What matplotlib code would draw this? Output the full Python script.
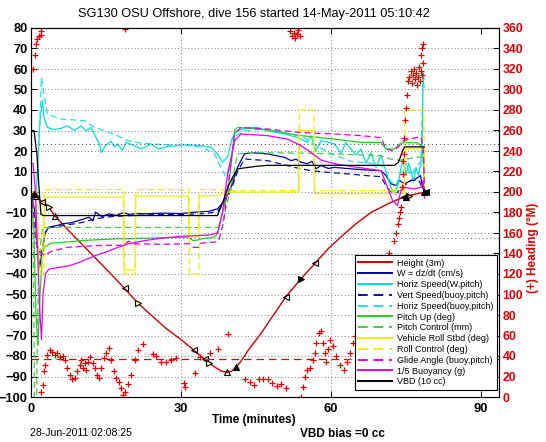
import numpy as np
import matplotlib
matplotlib.use("Agg")
import matplotlib.pyplot as plt

plt.rcParams['font.family'] = ['Liberation Sans', 'DejaVu Sans']

# ---- data (time in minutes) ----
height_t = [0, 1, 2, 3.4, 4.9, 7, 10, 13, 16, 18.7, 21.3, 24, 27, 30, 32.5, 34.7, 36.5, 38,
            39.2, 40.2, 41, 42, 43.5, 46, 48.5, 51, 53.9, 56.8, 59.5, 62.4, 65, 68, 71.6,
            74, 76, 77.5, 79]
height_v = [0, -2, -4.5, -7, -12, -17.5, -25, -32.5, -40, -47, -54, -60, -66.5, -72, -77,
            -81.5, -85, -87.3, -88, -87.3, -85.5, -82.5, -77, -69, -60, -51, -42.6, -34.8,
            -27.5, -21, -15.5, -10, -5.5, -3, -1.5, -0.7, 0]
# motor-move markers on the height trace
mark_t = [0.6, 0.9, 2.2, 3.5, 4.8, 18.7, 21.3, 32.5, 34.7, 35.6, 39.2, 41.0, 51.0, 53.9,
          56.8, 74.5, 75.0, 75.6, 78.6, 78.9, 79.0]
mark_sym = ['^', '^', '<', '>', '^', '<', '>', '<', '<', '>', '^', '^', '<', '>', '<',
            '<', '^', '>', '^', '<', '>']
mark_fill = ['k', 'none', '#ffcc66', '#ffff99', 'none', 'none', '#ffff99', 'none', 'none',
             '#ffff99', 'none', 'k', 'none', 'k', 'none', 'k', 'k', 'none', 'k', 'k', 'none']

vbd_t = [0, 0.6, 1.2, 1.6, 2.0, 2.5, 37.3, 38.5, 39.5, 40.5, 41.3, 45, 47.3, 72.7, 73.5,
         74.3, 74.7, 78.7]
vbd_v = [30, 30, 18, 2, -11, -11.5, -11.5, -4, 3, 8, 11.3, 12.5, 13, 13, 14.5, 20, 22, 22]

w_t = [0, 0.8, 1.3, 1.7, 2.2, 2.8, 3.6, 5, 6.3, 8, 9.6, 11.6, 12.4, 12.9, 13.3, 14.2, 15.6,
       17, 18.5, 19.6, 21, 23, 26.3, 30, 33, 35.6, 37.3, 38.7, 40, 41.3, 42.7, 44, 47.3,
       50.7, 52, 53, 54, 55.3, 56.2, 57, 58, 59.5, 60.7, 64, 67.3, 70, 71, 72, 73, 73.7,
       74.7, 76, 77, 77.9, 78.3, 78.7]
w_v = [0, -10, -28, -37, -30, -20, -17, -16.5, -15.5, -15, -13.9, -12.3, -14, -9.8, -10.5,
       -12, -10.7, -11.5, -10, -11, -10.5, -10.6, -10.3, -10.5, -9.8, -9.4, -8.2, -4.2, 2.3,
       12, 18.6, 19.2, 18.6, 16.9, 15.3, 16, 14.5, 13.8, 15, 11.3, 12.9, 11.5, 12, 11.3,
       10.7, 10.4, 8, 4, 3.2, 5.6, 4, 5.6, 6.5, 8, 2.3, 0.3]

hspd_t = [0, 1.0, 1.3, 1.8, 2.3, 2.6, 3.3, 4.5, 6, 7.3, 8.7, 10, 11, 12, 13, 13.7, 14, 15,
          16, 16.7, 17.3, 18.3, 19, 20.7, 22, 24, 25.5, 27.3, 31.3, 34, 36, 37.3, 38.3,
          39.3, 40.3, 41.3, 44, 45.3, 47.3, 50.7, 53.3, 55.3, 56, 57, 58, 60.7, 62, 63, 64,
          65, 66, 67, 68, 69, 70, 71, 71.5, 72, 72.5, 73, 73.5, 74, 74.5, 75, 75.5, 76,
          76.5, 77, 77.5, 78, 78.3, 78.4, 78.6]
hspd_v = [0, 0, 10, 35, 44.5, 36.4, 31.5, 30.5, 31, 32.3, 30, 32.3, 29.7, 31.5, 26.6, 23.4,
          19.3, 22.9, 24.8, 22, 23.4, 20.4, 24.2, 22.6, 21, 23.4, 21, 22.2, 23, 22.6, 21.8,
          18.6, 14.5, 17, 26.6, 29.9, 31.5, 31.5, 29.9, 28.3, 26.6, 24.2, 27.5, 20, 25,
          23.5, 19, 24, 21, 18, 21, 14, 19, 12, 18, 10, 6, 2, 0, 1, 4, 12, 16, 8, 14, 10,
          5, 12, 8, 14, 30, 58, 55]

vspd_b_t = [0, 0.8, 1.3, 1.7, 2.2, 2.8, 3.6, 6, 10, 13, 16, 20, 25, 30, 35, 37.3, 38.7, 40,
            41.3, 42.7, 47.3, 52.7, 56, 59.3, 64, 68, 70, 71, 72, 73, 74, 76, 77.5, 78.3,
            78.7]
vspd_b_v = [0, -12, -30, -35, -28, -20, -17.5, -16.5, -15, -13, -12, -11.5, -11, -11, -10.5,
            -9.5, -5, 1, 10, 16.1, 15.3, 12, 10.4, 9.6, 8.7, 7.8, 7.5, 3, 0, -1, 2, 5.6, 6,
            2, 0]

hspd_b_t = [0, 1.0, 1.5, 2.1, 2.7, 3.3, 6, 10.7, 12.7, 14.7, 17.3, 19.3, 22, 27.3, 31.3, 34,
            36.7, 38, 39, 40, 41, 42.7, 47.3, 52, 54, 57, 60.7, 64, 68, 70, 71, 72, 73, 74,
            75, 76, 77, 78, 78.4, 78.7]
hspd_b_v = [0, 0, 20, 55.8, 46, 38, 35.6, 34.8, 31.5, 29.9, 27.5, 25, 23.8, 23, 22.6, 22,
            18.6, 12, 7.2, 15.3, 27.5, 29.9, 30.7, 28, 27.5, 22.6, 18, 15, 14, 13, 10, 5, 3,
            10, 14, 8, 12, 15, 55, 50]

pitch_t = [0, 0.6, 1.0, 1.4, 1.8, 2.3, 2.7, 4, 10.7, 17.3, 19.6, 26.3, 31.6, 32.3, 33, 34.2,
           36.7, 37.3, 38.3, 39.3, 40.1, 40.7, 41.3, 47.3, 54, 60.7, 66, 70, 71, 72.7, 73.7,
           74.7, 77.3, 78.3, 78.7]
pitch_v = [0, -20, -60, -75, -50, -30, -26.9, -25, -23.6, -22.8, -22.8, -22.3, -22, -23.6,
           -23.6, -22.8, -22, -20.4, -10, -0.9, 15, 29.9, 31.5, 30.3, 27.5, 25.8, 24.2, 24.2,
           21, 21, 23.4, 24.2, 24, 21.8, 2]

pctl_t = [0, 0.4, 0.7, 1.1, 1.5, 2.3, 37.3, 38.3, 40, 41.3, 44, 54, 60.7, 70, 72, 74, 77,
          78.5, 78.7]
pctl_v = [0, -5, -105, -105, -35, -17.3, -17.3, -15, 2.3, 18.6, 19.2, 19, 18.6, 17.7, 16,
          15.5, 17, 17, 0]

roll_t = [0, 0.8, 1.2, 1.6, 2.2, 2.6, 3.0, 18.5, 18.6, 20.8, 20.9, 31.5, 31.6, 33.5, 33.6,
          37.3, 38.0, 39.3, 53.5, 53.6, 56.6, 56.7, 74.6, 74.7, 78.6, 78.7]
roll_v = [0, 0, -20, -38, -38, -10, -2.5, -2.5, -38, -38, -2, -2, -22, -22, -2, -1.7, -1, 0,
          0, 30, 30, -0.8, -0.8, 21, 21, 0]

rctl_t = [0, 1.5, 1.6, 2.6, 2.7, 18.6, 18.7, 20.9, 21.0, 31.6, 31.7, 33.6, 33.7, 37.5, 39,
          53.6, 53.7, 56.6, 56.7, 74.7, 74.8, 78.6, 78.7]
rctl_v = [0, 0, -40, -40, 1.2, 1.2, -40, -40, 1.2, 1.2, -40, -40, 1.2, 1.2, 0.7, 0.7, 40, 40,
          0.7, 0.7, 40, 40, 0]

glide_t = [0, 0.5, 1.0, 1.7, 2.7, 4, 7.3, 14, 18.5, 19.5, 20.7, 27, 31.6, 32.5, 33.5, 34,
           36.7, 37.5, 38.5, 39.5, 40.7, 42, 47.3, 54, 60.7, 66, 70, 71, 72.5, 73.5, 74.5,
           76, 78, 78.5, 78.7]
glide_v = [0, -10, -25, -29, -31, -29, -27, -26, -26, -24, -25.3, -25.5, -25.2, -27, -27,
           -25, -24.4, -24, -15, 5, 28.4, 31.5, 30.7, 29, 28.3, 27.5, 26.5, 21, 20, 22, 25,
           26, 27, 20, 0]

buoy_t = [0, 0.4, 0.9, 1.4, 1.8, 2.1, 2.4, 2.9, 3.6, 7.6, 10, 12.9, 15.6, 17.6, 19.6, 23,
          26.3, 30, 33, 35.6, 37.3, 38.3, 39.3, 40.7, 42, 47.3, 51.3, 54, 56, 58, 60.7, 64,
          70, 71.3, 72.3, 73.3, 74, 74.7, 76.7, 78, 78.4, 78.7]
buoy_v = [14, 14, 0, -35, -60, -72, -50, -39.8, -37.6, -36, -34, -31, -28.7, -26.8, -25.2,
          -23.6, -22.5, -21.6, -21.3, -21, -20, -10, 8.3, 25, 28.3, 27.5, 25.8, 22.6, 19.3,
          15.6, 13.8, 12.5, 10.4, 2.3, -4.1, -6.6, 0.9, 2.3, 1.5, 2.3, 5.6, -3]

# heading (deg magnetic, right axis)
head_t = [0.3, 0.7, 1.0, 1.2, 1.5, 1.9, 2.0,
          2.0, 2.3, 2.5, 2.8, 3.2, 3.7, 4.1, 4.7, 5.2, 5.7, 6.3, 6.7, 7.2, 7.7, 8.1, 8.7,
          9.2, 9.7, 10.0, 10.3, 10.7, 11.0, 11.3, 11.8, 12.3, 12.7, 13.1, 13.5, 14.0, 14.5,
          15.0, 15.5, 16.0, 16.5, 17.0, 17.5, 17.9, 18.3,
          18.7,
          18.8, 19.3, 19.9, 20.7, 21.3, 22.3, 24.3, 25.0, 26.0, 27.0, 28.0, 29.0, 30.5, 30.7,
          32.7, 33.7, 35.7, 37.3, 39.3,
          42.7, 43.7, 44.6, 45.5, 46.3, 47.3, 48.1, 49.2, 50.0, 51.0,
          51.8, 52.2, 52.5, 52.8, 53.1, 53.4, 53.7,
          54.0, 54.3, 54.7, 55.2, 55.7, 56.3, 56.7, 57.0, 57.5, 57.9, 58.3, 58.7, 59.0, 59.3,
          59.7, 60.3, 61.0, 61.7, 62.5, 63.2, 63.7, 64.3, 64.7,
          65.5, 67.0, 68.5, 70.0, 71.5, 72.5,
          73.0, 73.3, 73.5, 73.7, 74.0, 74.2, 74.3, 74.4, 74.5, 74.6, 74.7, 74.9, 75.1, 75.3,
          75.6, 75.9, 76.1, 76.3, 76.5, 76.7, 76.9, 77.1, 77.3, 77.5, 77.7, 77.9, 78.0, 78.1,
          78.2, 78.3, 78.4]
head_v = [320, 334, 344, 349, 352, 353, 357,
          5, 12, 25, 31, 41, 46, 44, 41, 43, 39, 40, 36, 28, 21, 18, 19,
          25, 31, 36, 28, 33, 26, 34, 39, 33, 28, 21, 19, 28, 38,
          43, 48, 36, 25, 19, 15, 9, 2,
          359,
          5, 13, 21, 36, 46, 52, 42, 40, 34, 34, 36, 38, 14, 10,
          23, 39, 43, 47, 61,
          18, 15, 12, 18, 18, 18, 14, 11, 13, 9,
          357, 352, 355, 350, 354, 358, 352,
          0, 10, 20, 26, 28, 36, 43, 53, 62, 64, 53, 43, 34, 47,
          56, 50, 40, 31, 26, 34, 43, 53, 60,
          70, 90, 110, 125, 140, 152,
          160, 169, 175, 180, 185, 205, 218, 230, 237, 253, 270, 282, 295, 308,
          312, 318, 306, 314, 320, 310, 316, 304, 312, 322, 308, 318, 334, 314,
          340, 326, 344]
head_target = 37
VBD_BIAS = 0

series = [
    (w_t, w_v, '#0000aa', '-', 'W = dz/dt (cm/s)'),
    (hspd_t, hspd_v, '#00e0e0', '-', 'Horiz Speed(W,pitch)'),
    (vspd_b_t, vspd_b_v, '#1010a0', '--', 'Vert Speed(buoy,pitch)'),
    (hspd_b_t, hspd_b_v, '#20e0e0', '--', 'Horiz Speed(buoy,pitch)'),
    (pitch_t, pitch_v, '#22cc22', '-', 'Pitch Up (deg)'),
    (pctl_t, pctl_v, '#44cc44', '--', 'Pitch Control (mm)'),
    (roll_t, roll_v, '#f0f000', '-', 'Vehicle Roll Stbd (deg)'),
    (rctl_t, rctl_v, '#f0f000', '--', 'Roll Control (deg)'),
    (glide_t, glide_v, '#dd00dd', '--', 'Glide Angle (buoy,pitch)'),
    (buoy_t, buoy_v, '#ee00ee', '-', '1/5 Buoyancy (g)'),
    (vbd_t, vbd_v, 'black', '-', 'VBD (10 cc)'),
]

fig = plt.figure(figsize=(5.46, 4.42), dpi=100)
ax = fig.add_axes([31 / 546, 1 - 397 / 442, 468 / 546, 369 / 442])
ax2 = ax.twinx()

handles = []
h, = ax.plot(height_t, height_v, color='#cc0000', lw=1.0, label='Height (3m)')
handles.append(h)
for t, v, c, ls, lab in series:
    if ls == '--':
        h, = ax.plot(t, v, color=c, lw=0.9, label=lab, dashes=(5, 3))
    else:
        h, = ax.plot(t, v, color=c, lw=0.9, label=lab)
    handles.append(h)

mark_y = np.interp(mark_t, height_t, height_v)
for x, y, s, f in zip(mark_t, mark_y, mark_sym, mark_fill):
    ax.plot(x, y, marker=s, ms=5, mfc=f, mec='black', mew=0.8, ls='none', zorder=5)

# reference glide lines
ax.axhline(23.4, color='#333355', ls=(0, (1, 3)), lw=0.7)
ax.axhline(-22.5, color='#5555cc', ls=(0, (1, 3)), lw=0.7)

ax2.plot(head_t, head_v, ls='none', marker='+', ms=4, mew=0.9, color='#e00000')
ax2.axhline(head_target, color='#dd0000', lw=0.9, dashes=(6, 4))

ax.set_xlim(0, 93.6)
ax.set_ylim(-100, 80)
ax2.set_ylim(0, 360)
ax.set_xticks([0, 30, 60, 90])
ax.set_yticks(np.arange(-100, 81, 10))
ax2.set_yticks(np.arange(0, 361, 20))

ax.grid(True, ls=(0, (1, 3)), color='#555555', lw=0.6)
ax.xaxis.get_gridlines()[3].set_visible(False)

ax.tick_params(axis='both', direction='in', length=4, width=0.7, labelsize=9.3, pad=2.5,
               top=True)
ax.tick_params(axis='x', pad=4)
ax2.tick_params(axis='y', direction='in', length=4, width=0.7, labelsize=8.8, pad=2.5,
                colors='#dd0000')
ax2.tick_params(axis='y', color='black')
for lab in ax.get_xticklabels() + ax.get_yticklabels() + ax2.get_yticklabels():
    lab.set_fontweight('bold')
for sp in list(ax.spines.values()) + list(ax2.spines.values()):
    sp.set_linewidth(0.8)

leg = ax2.legend(handles, [hh.get_label() for hh in handles], loc='lower right',
                 bbox_to_anchor=(0.9957, 0.019), borderaxespad=0, fontsize=6.5,
                 fancybox=False, edgecolor='black', framealpha=1, handlelength=3.8,
                 handletextpad=0.5, labelspacing=0.2, borderpad=0.4)
leg.get_frame().set_linewidth(0.8)
for ln in leg.get_lines():
    ln.set_linewidth(1.4)

fig.text(254 / 546, 1 - 14 / 442, 'SG130 OSU Offshore, dive 156 started 14-May-2011 05:10:42',
         ha='center', va='center', fontsize=9.2)
fig.text(254 / 546, 1 - 420 / 442, 'Time (minutes)', ha='center', va='center',
         fontsize=8.5, fontweight='bold')
fig.text(30 / 546, 1 - 433 / 442, '28-Jun-2011 02:08:25', ha='left', va='center',
         fontsize=7.6)
fig.text(300 / 546, 1 - 434 / 442, 'VBD bias =%d cc' % VBD_BIAS, ha='left', va='center',
         fontsize=8.5, fontweight='bold')
fig.text(533 / 546, 1 - 248 / 442, '(+) Heading (\u00b0M)', ha='center', va='center',
         rotation=90, fontsize=8.5, fontweight='bold', color='#dd0000')

fig.savefig('out.png', dpi=100, facecolor='white')
